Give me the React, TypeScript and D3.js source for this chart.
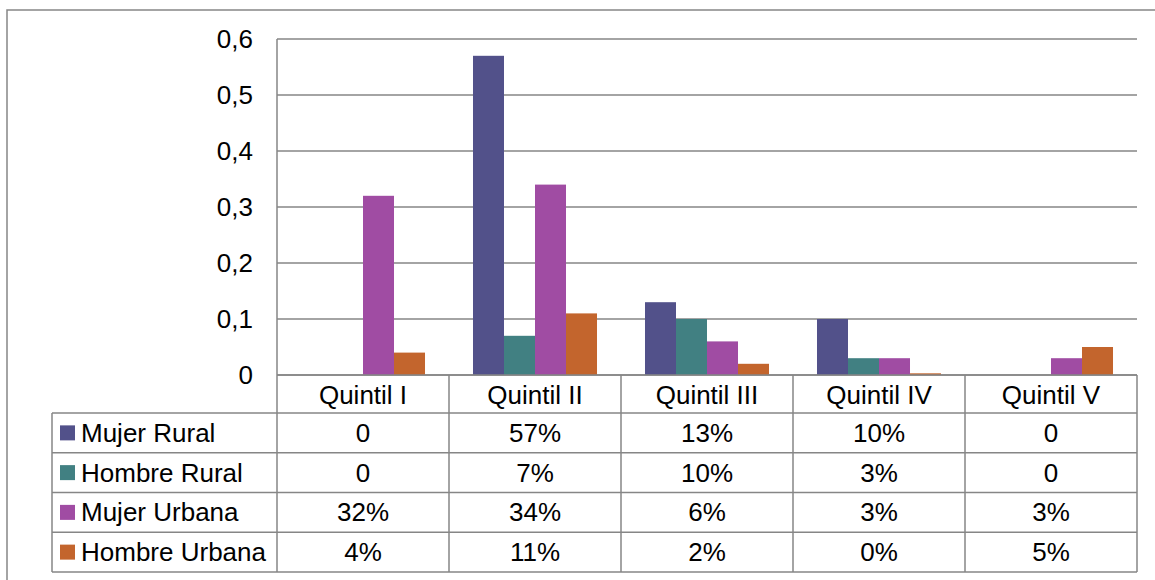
import React from "react";
import * as d3 from "d3";

const categories = ["Quintil I", "Quintil II", "Quintil III", "Quintil IV", "Quintil V"];
const seriesNames = ["Mujer Rural", "Hombre Rural", "Mujer Urbana", "Hombre Urbana"];
const mujerRural = [0, 0.57, 0.13, 0.1, 0];
const hombreRural = [0, 0.07, 0.1, 0.03, 0];
const mujerUrbana = [0.32, 0.34, 0.06, 0.03, 0.03];
const hombreUrbana = [0.04, 0.11, 0.02, 0.003, 0.05];
const seriesColors = ["#52518A", "#418082", "#A04CA3", "#C3652D"];
const yTicks = [0, 0.1, 0.2, 0.3, 0.4, 0.5, 0.6];

const seriesValues = [mujerRural, hombreRural, mujerUrbana, hombreUrbana];

const W = 1155;
const H = 580;
const FONT = "'Liberation Sans', Arial, sans-serif";
const GRID = "#868686";

export default function App() {
  const plotLeft = 277;
  const plotRight = 1137;
  const plotTop = 39;
  const plotBottom = 375;
  const tableLeft = 52;
  const headerBottom = 413;
  const tableBottom = 572;

  const x = d3.scaleBand<string>().domain(categories).range([plotLeft, plotRight]).padding(0);
  const xi = d3
    .scaleBand<string>()
    .domain(seriesNames)
    .range([0, x.bandwidth()])
    .paddingInner(0)
    .paddingOuter(0.774);
  const y = d3.scaleLinear().domain([0, 0.6]).range([plotBottom, plotTop]);
  const rows = d3.scaleBand<string>().domain(seriesNames).range([headerBottom, tableBottom]);

  const fmtTick = (v: number) => d3.format(".1f")(v).replace(".", ",");
  const fmtCell = (v: number) => (v === 0 ? "0" : Math.round(v * 100) + "%");

  const fs = 26;

  return (
    <svg
      width={W}
      height={H}
      style={{ position: "absolute", left: 0, top: 0, background: "#fff" }}
      fontFamily={FONT}
    >
      <rect x={0} y={0} width={W} height={H} fill="#fff" />
      {/* outer frame */}
      <rect x={7} y={10} width={W + 10} height={H + 10} fill="none" stroke={GRID} strokeWidth={1.5} />

      {/* gridlines */}
      {yTicks.map((t) => (
        <line key={t} x1={plotLeft} x2={plotRight} y1={y(t)} y2={y(t)} stroke={GRID} strokeWidth={1.5} />
      ))}
      {/* y tick labels */}
      {yTicks.map((t) => (
        <text
          key={"l" + t}
          x={253}
          y={y(t)}
          dy="0.35em"
          textAnchor="end"
          fontSize={fs}
          fill="#000"
        >
          {t === 0 ? "0" : fmtTick(t)}
        </text>
      ))}

      {/* bars */}
      {seriesValues.map((vals, si) =>
        vals.map((v, ci) => {
          const bx = (x(categories[ci]) ?? 0) + (xi(seriesNames[si]) ?? 0);
          return (
            <rect
              key={si + "-" + ci}
              x={bx}
              y={y(v)}
              width={xi.bandwidth()}
              height={plotBottom - y(v)}
              fill={seriesColors[si]}
            />
          );
        })
      )}

      {/* axis lines */}
      <line x1={plotLeft} x2={plotLeft} y1={plotTop} y2={tableBottom} stroke={GRID} strokeWidth={1.5} />
      <line x1={plotLeft} x2={plotRight} y1={plotBottom} y2={plotBottom} stroke={GRID} strokeWidth={1.5} />

      {/* table */}
      {categories.map((c) => (
        <line
          key={"v" + c}
          x1={(x(c) ?? 0) + x.bandwidth()}
          x2={(x(c) ?? 0) + x.bandwidth()}
          y1={plotBottom}
          y2={tableBottom}
          stroke={GRID}
          strokeWidth={1.5}
        />
      ))}
      <line x1={tableLeft} x2={tableLeft} y1={headerBottom} y2={tableBottom} stroke={GRID} strokeWidth={1.5} />
      <line x1={tableLeft} x2={plotRight} y1={headerBottom} y2={headerBottom} stroke={GRID} strokeWidth={1.5} />
      {seriesNames.map((s) => (
        <line
          key={"h" + s}
          x1={tableLeft}
          x2={plotRight}
          y1={(rows(s) ?? 0) + rows.bandwidth()}
          y2={(rows(s) ?? 0) + rows.bandwidth()}
          stroke={GRID}
          strokeWidth={1.5}
        />
      ))}

      {/* header */}
      {categories.map((c) => (
        <text
          key={"hd" + c}
          x={(x(c) ?? 0) + x.bandwidth() / 2}
          y={(plotBottom + headerBottom) / 2 + 1}
          dy="0.35em"
          textAnchor="middle"
          fontSize={fs}
          fill="#000"
        >
          {c}
        </text>
      ))}

      {/* rows */}
      {seriesNames.map((s, si) => {
        const ry = (rows(s) ?? 0) + rows.bandwidth() / 2;
        return (
          <g key={"r" + s}>
            <rect x={60} y={ry - 7.5} width={15} height={15} fill={seriesColors[si]} />
            <text x={81} y={ry} dy="0.35em" fontSize={fs} fill="#000">
              {s}
            </text>
            {categories.map((c, ci) => (
              <text
                key={c}
                x={(x(c) ?? 0) + x.bandwidth() / 2}
                y={ry}
                dy="0.35em"
                textAnchor="middle"
                fontSize={fs}
                fill="#000"
              >
                {fmtCell(seriesValues[si][ci])}
              </text>
            ))}
          </g>
        );
      })}
    </svg>
  );
}
